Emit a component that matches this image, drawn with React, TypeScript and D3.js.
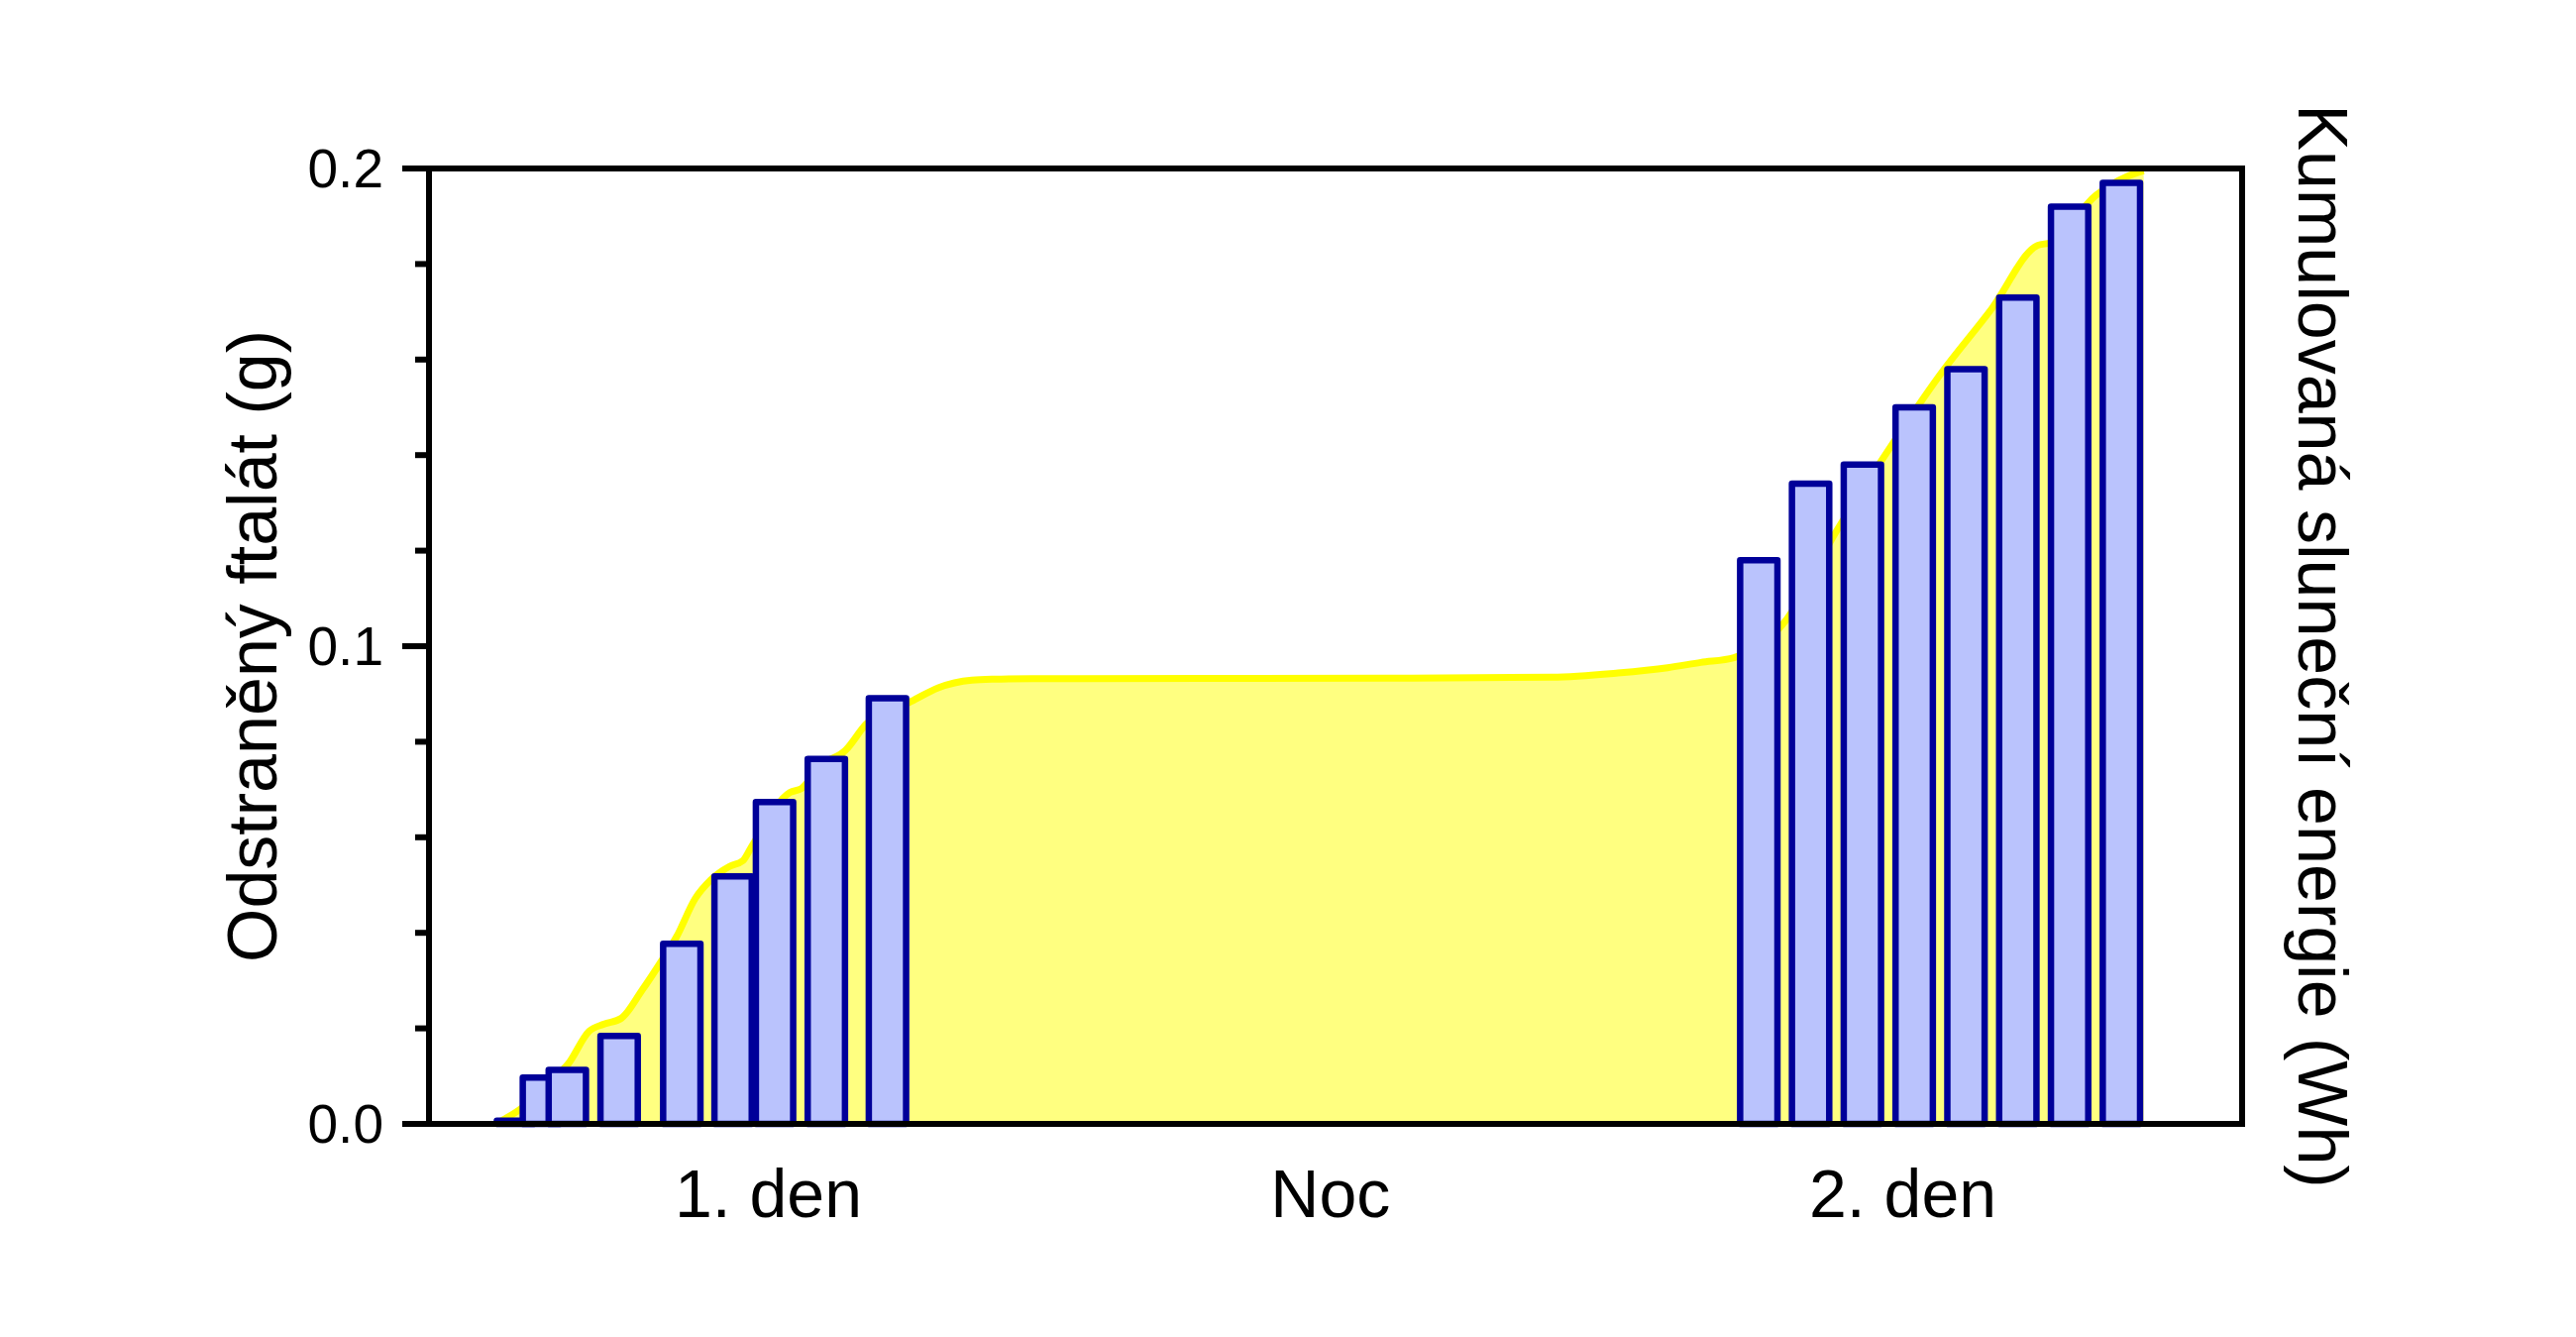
import React from 'react';
import * as d3 from 'd3';

// ---- data ----
// time axis in hours of clock time (day 2 = clock + 24)
const day1Times = [8.67, 9.17, 9.67, 10.67, 11.88, 12.87, 13.67, 14.67, 15.85];
const day1Removed = [0.0007, 0.0097, 0.0113, 0.0184, 0.0377, 0.0518, 0.0674, 0.0764, 0.0891];
const day2Times = [32.67, 33.67, 34.67, 35.67, 36.67, 37.67, 38.67, 39.67];
const day2Removed = [0.118, 0.134, 0.138, 0.15, 0.158, 0.173, 0.192, 0.197];

const energyTimes = [8.28, 8.86, 9.24, 9.69, 10.09, 10.38, 10.71, 11.12, 11.44, 11.78, 12.14, 12.44, 12.8, 13.06, 13.24, 13.97, 14.19, 14.56, 15.04, 15.44, 16.32, 16.83, 17.48, 17.9, 18.64, 25.97, 28.68, 29.95, 30.91, 31.55, 32.19, 33.17, 34.16, 35.15, 36.16, 37.17, 38.05, 38.31, 39.18, 40.03, 40.1];
const energyWh = [0, 3.9, 8.1, 12.6, 19.4, 20.9, 22.1, 28.1, 33.3, 39.2, 47.2, 51.1, 53.9, 55.1, 58.3, 69.4, 70.2, 75.0, 78.2, 83.7, 88.5, 91.3, 92.9, 93.1, 93.2, 93.3, 93.5, 94.4, 95.5, 96.6, 97.6, 105.1, 123.9, 140.7, 156.7, 170.7, 183.9, 184.5, 194.4, 199.3, 199.5];

const periodLabels = ['1. den', 'Noc', '2. den'];
const periodCenters = [13.55, 24.4, 35.45];

const yMajorTicks = [0, 0.1, 0.2];
const yTickLabels = ['0.0', '0.1', '0.2'];

const leftTitle = 'Odstraněný ftalát (g)';
const rightTitle = 'Kumulovaná sluneční energie (Wh)';

// ---- layout ----
const W = 2600;
const H = 1349;
const PL = 433, PR = 2263, PT = 170, PB = 1134;
const FONT = '"Liberation Sans", Arial, Helvetica, sans-serif';
const BAR_W_HOURS = 0.72;

export default function App() {
  const x = d3.scaleLinear().domain([7, 42]).range([PL, PR]);
  const y = d3.scaleLinear().domain([0, 0.2]).range([PB, PT]);
  const yR = d3.scaleLinear().domain([0, 200]).range([PB, PT]);

  const energy = energyTimes.map((t, i) => ({ t, e: energyWh[i] }));
  const area = d3.area<{ t: number; e: number }>()
    .x(d => x(d.t)).y0(yR(0)).y1(d => yR(d.e)).curve(d3.curveMonotoneX);
  const line = d3.line<{ t: number; e: number }>()
    .x(d => x(d.t)).y(d => yR(d.e)).curve(d3.curveMonotoneX);

  const bars = [
    ...day1Times.map((t, i) => ({ t, v: day1Removed[i] })),
    ...day2Times.map((t, i) => ({ t, v: day2Removed[i] })),
  ];
  const bw = x(7 + BAR_W_HOURS) - x(7);

  const minorTicks = d3.range(0, 0.2001, 0.02).filter(v => !yMajorTicks.some(m => Math.abs(m - v) < 1e-9));

  return (
    <svg width={W} height={H} style={{ position: 'absolute', left: 0, top: 0, background: '#fff' }}>
      <rect x={0} y={0} width={W} height={H} fill="#fff" />
      <path d={area(energy) || ''} fill="#FFFF80" stroke="none" />
      <path d={line(energy) || ''} fill="none" stroke="#FFFF00" strokeWidth={7} strokeLinejoin="round" />
      {bars.map((b, i) => (
        <rect key={i} x={x(b.t) - bw / 2} y={y(b.v)} width={bw} height={y(0) - y(b.v)}
          fill="#BAC3FD" stroke="#000099" strokeWidth={6.5} strokeLinejoin="round" />
      ))}
      {/* frame */}
      <rect x={PL} y={PT} width={PR - PL} height={PB - PT} fill="none" stroke="#000" strokeWidth={6} />
      {/* y ticks */}
      {yMajorTicks.map((v, i) => (
        <g key={'M' + i}>
          <line x1={PL - 27} x2={PL} y1={y(v)} y2={y(v)} stroke="#000" strokeWidth={6} />
          <text x={387} y={y(v) + 19} textAnchor="end" fontSize={55} fontFamily={FONT}>{yTickLabels[i]}</text>
        </g>
      ))}
      {minorTicks.map((v, i) => (
        <line key={'m' + i} x1={PL - 14} x2={PL} y1={y(v)} y2={y(v)} stroke="#000" strokeWidth={6} />
      ))}
      {periodLabels.map((l, i) => (
        <text key={'p' + i} x={x(periodCenters[i])} y={1228} textAnchor="middle" fontSize={68} fontFamily={FONT}>{l}</text>
      ))}
      <text transform={`translate(279,${(PT + PB) / 2}) rotate(-90)`} textAnchor="middle" fontSize={70} fontFamily={FONT}>{leftTitle}</text>
      <text transform={`translate(2320,${(PT + PB) / 2}) rotate(90)`} textAnchor="middle" fontSize={70} fontFamily={FONT}>{rightTitle}</text>
    </svg>
  );
}
